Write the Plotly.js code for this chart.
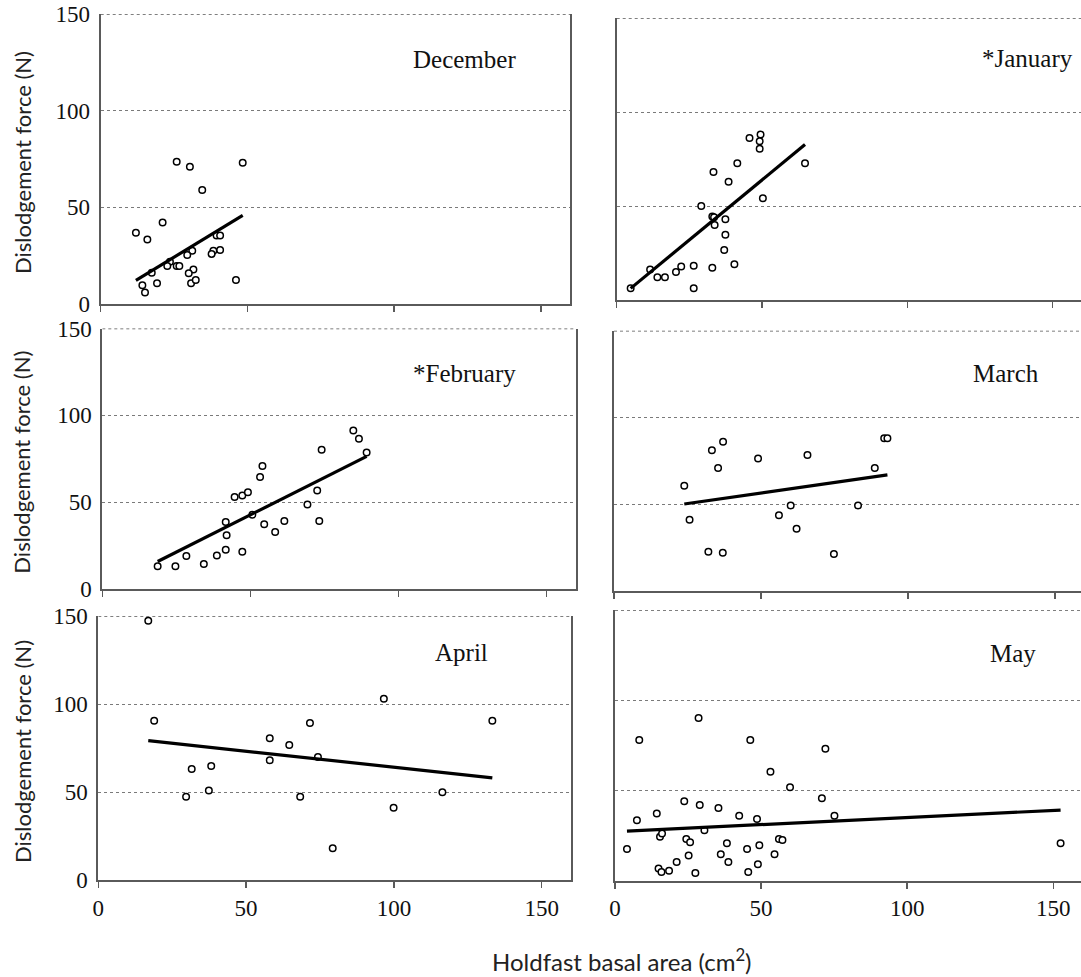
<!DOCTYPE html>
<html>
<head>
<meta charset="utf-8">
<script src="https://cdn.plot.ly/plotly-3.0.1.min.js"></script>
<style>
  html, body { margin: 0; padding: 0; background: #fff; }
  #chart { width: 1081px; height: 977px; }
</style>
</head>
<body>
<div id="chart"></div>
<script>
// Holdfast basal area (cm²) vs dislodgement force (N), one panel per month
const months = ["December", "*January", "*February", "March", "April", "May"];

const decArea  = [25.9, 30.4, 48.4, 34.6, 21.1, 12.0, 15.9, 39.5, 40.7, 31.2, 29.5, 38.4, 37.8, 40.7, 23.6, 22.7, 25.9, 26.8, 17.4, 31.6, 30.0, 14.2, 15.1, 19.2, 30.8, 32.4, 46.1];
const decForce = [73.6, 71.0, 73.1, 59.0, 42.1, 36.9, 33.4, 35.5, 35.5, 27.6, 25.3, 27.6, 25.9, 27.9, 21.9, 19.7, 19.7, 19.7, 16.2, 17.9, 15.9, 9.7, 6.0, 10.7, 10.7, 12.4, 12.4];

const janArea  = [4.8, 11.5, 14.0, 16.6, 20.4, 22.2, 26.5, 26.5, 29.1, 32.9, 33.3, 32.9, 33.5, 33.7, 37.4, 37.4, 37.0, 38.5, 40.5, 41.5, 45.7, 49.5, 49.2, 49.2, 50.3, 64.8];
const janForce = [6.2, 16.3, 12.1, 12.1, 14.9, 17.8, 18.3, 6.2, 50.1, 17.2, 68.2, 44.4, 44.0, 40.0, 43.0, 34.8, 26.6, 62.9, 19.0, 72.8, 86.3, 88.1, 84.5, 80.5, 54.2, 72.8];

const febArea  = [18.7, 24.7, 28.4, 34.3, 38.7, 41.7, 42.0, 41.7, 47.3, 44.7, 47.3, 49.2, 50.7, 53.3, 54.1, 54.7, 58.4, 61.5, 69.3, 72.6, 73.3, 74.1, 84.8, 86.7, 89.3];
const febForce = [12.9, 12.9, 18.8, 14.2, 19.2, 22.5, 30.8, 38.5, 21.3, 52.9, 53.7, 55.6, 42.7, 64.4, 70.8, 37.1, 32.7, 39.0, 48.5, 56.7, 39.0, 80.2, 91.2, 86.5, 78.5];

const marArea  = [23.9, 25.7, 32.1, 37.0, 33.3, 37.1, 35.4, 49.0, 56.1, 60.1, 62.1, 65.8, 74.8, 83.0, 88.7, 91.9, 93.0];
const marForce = [60.6, 41.0, 22.5, 21.9, 81.0, 86.0, 70.8, 76.3, 43.5, 49.2, 35.8, 78.3, 21.2, 49.2, 70.8, 87.9, 87.9];

const aprArea  = [16.9, 18.9, 29.7, 31.6, 37.4, 38.2, 58.0, 58.0, 64.6, 68.3, 71.6, 74.3, 79.3, 96.6, 99.9, 116.4, 133.3];
const aprForce = [147.3, 90.5, 47.3, 63.1, 50.9, 64.8, 80.5, 68.0, 76.7, 47.3, 89.2, 69.9, 18.0, 103.0, 41.1, 49.8, 90.5];

const mayArea  = [4.1, 7.5, 8.3, 14.3, 15.4, 16.1, 14.9, 15.9, 18.5, 21.1, 23.7, 24.4, 25.7, 25.2, 27.5, 28.6, 29.0, 30.6, 35.4, 36.2, 38.3, 38.8, 42.5, 45.2, 45.6, 46.3, 48.6, 49.4, 48.9, 53.2, 54.6, 56.1, 57.3, 59.9, 70.8, 72.0, 75.1, 152.5];
const mayForce = [17.6, 33.5, 78.0, 37.2, 24.4, 26.2, 6.7, 4.8, 5.5, 10.4, 44.0, 23.1, 21.3, 14.0, 4.3, 90.2, 42.0, 27.9, 40.3, 14.6, 20.7, 10.4, 36.0, 17.6, 4.8, 78.0, 34.2, 19.6, 9.1, 60.4, 14.6, 23.1, 22.6, 51.8, 45.7, 73.2, 36.0, 20.7];

// Linear regression fits (force = slope * area + intercept)
const fitSlope     = [0.925, 1.277, 0.859, 0.243, -0.181, 0.0783];
const fitIntercept = [1.1, 0.07, -0.4, 44.2, 82.2, 27.2];

const yTicks = [0, 50, 100, 150];
const xTicks = [0, 50, 100, 150];

const areaSets  = [decArea, janArea, febArea, marArea, aprArea, mayArea];
const forceSets = [decForce, janForce, febForce, marForce, aprForce, mayForce];

// Panel frames in page pixels: origin of the data (0,0) and pixels per unit
const W = 1081, H = 977;
const frames = [
  { ox: 100.7, kx: 2.934, oy: 304.0, ky: 1.933, lx: 464.5, ly: 59.3 },
  { ox: 616.7, kx: 2.906, oy: 300.0, ky: 1.878, lx: 1027.0, ly: 58.3 },
  { ox: 102.3, kx: 2.960, oy: 588.7, ky: 1.734, lx: 464.0, ly: 373.0 },
  { ox: 614.0, kx: 2.940, oy: 590.7, ky: 1.733, lx: 1005.5, ly: 373.0 },
  { ox: 98.3,  kx: 2.956, oy: 880.0, ky: 1.760, lx: 461.0, ly: 652.7 },
  { ox: 615.0, kx: 2.922, oy: 880.7, ky: 1.804, lx: 1012.7, ly: 653.3 }
];

const serif = "Liberation Serif";
const sans = "Lato";

const traces = [];
const layout = {
  width: W, height: H,
  margin: { l: 0, r: 0, t: 0, b: 0 },
  font: { family: serif, size: 23, color: "#111" },
  paper_bgcolor: "#fff",
  plot_bgcolor: "#fff",
  showlegend: false,
  annotations: [],
  shapes: []
};

frames.forEach((f, i) => {
  const n = i === 0 ? "" : String(i + 1);
  const xa = "x" + n, ya = "y" + n;
  const leftCol = i % 2 === 0;
  const bottomRow = i >= 4;
  const xEnd = Math.min(f.ox + 160 * f.kx, W);
  const xMax = (xEnd - f.ox) / f.kx;
  const yTop = f.oy - 150 * f.ky;

  const xs = areaSets[i], ys = forceSets[i];
  traces.push({
    type: "scatter", mode: "markers",
    x: xs, y: ys, xaxis: xa, yaxis: ya,
    marker: { symbol: "circle", size: 6.5, color: "#fff", line: { color: "#000", width: 1.5 } },
    hoverinfo: "x+y", cliponaxis: false
  });

  const lo = Math.min(...xs), hi = Math.max(...xs);
  traces.push({
    type: "scatter", mode: "lines",
    x: [lo, hi],
    y: [fitSlope[i] * lo + fitIntercept[i], fitSlope[i] * hi + fitIntercept[i]],
    xaxis: xa, yaxis: ya,
    line: { color: "#000", width: 3.2 },
    hoverinfo: "skip"
  });

  layout["xaxis" + n] = {
    domain: [f.ox / W, xEnd / W],
    range: [0, xMax], anchor: ya,
    showline: true, linecolor: "#5a5a5a", linewidth: 2,
    ticks: "outside", ticklen: 6, tickwidth: 1.5, tickcolor: "#5a5a5a",
    tickvals: xTicks, showticklabels: bottomRow,
    tickfont: { family: serif, size: 23, color: "#111" },
    showgrid: false, zeroline: false, fixedrange: true
  };
  layout["yaxis" + n] = {
    domain: [1 - f.oy / H, 1 - yTop / H],
    range: [0, 150], anchor: xa,
    showline: true, linecolor: "#5a5a5a", linewidth: 2, mirror: leftCol,
    ticks: "", tickvals: yTicks, showticklabels: leftCol,
    tickfont: { family: serif, size: 23, color: "#111" },
    ticklabelstandoff: 4,
    showgrid: true, gridcolor: "#7a7a7a", gridwidth: 1, griddash: "dot",
    zeroline: false, fixedrange: true
  };

  // dotted top edge of the frame
  layout.shapes.push({
    type: "line", xref: xa, yref: ya, x0: 0, x1: xMax, y0: 150, y1: 150,
    line: { color: "#555", width: 1.5, dash: "dot" }
  });

  // month label
  layout.annotations.push({
    text: months[i], xref: "paper", yref: "paper",
    x: f.lx / W, y: 1 - f.ly / H, xanchor: "center", yanchor: "middle",
    showarrow: false, font: { family: serif, size: 25, color: "#111" }
  });

  if (leftCol) {
    layout.annotations.push({
      text: "Dislodgement force (N)", xref: "paper", yref: "paper",
      x: 22 / W, y: 1 - ((f.oy + yTop) / 2 + 4) / H, xanchor: "center", yanchor: "middle",
      textangle: -90, showarrow: false,
      font: { family: sans, size: 22, color: "#222" }
    });
  }
});

layout.annotations.push({
  text: "Holdfast basal area (cm<sup>2</sup>)", xref: "paper", yref: "paper",
  x: 622 / W, y: 1 - 960 / H, xanchor: "center", yanchor: "middle",
  showarrow: false, font: { family: sans, size: 24, color: "#222" }
});

Plotly.newPlot("chart", traces, layout, { staticPlot: true, displayModeBar: false });
</script>
</body>
</html>
